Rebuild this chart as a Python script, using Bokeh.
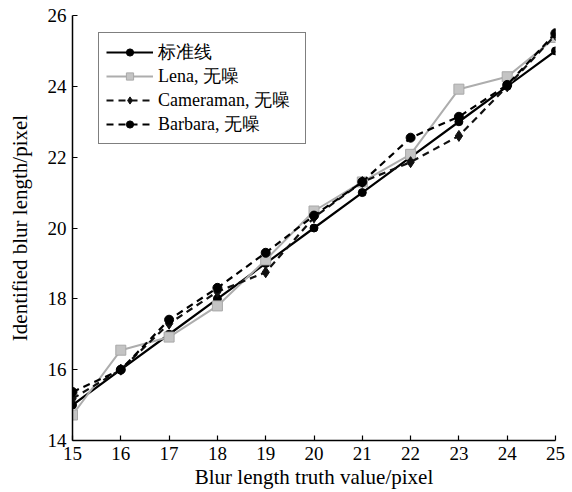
from bokeh.plotting import figure
from bokeh.models import Range1d, Legend, LegendItem, FixedTicker
from bokeh.embed import file_html
from bokeh.resources import INLINE

x = [15, 16, 17, 18, 19, 20, 21, 22, 23, 24, 25]
standard = [15, 16, 17, 18, 19, 20, 21, 22, 23, 24, 25]
lena = [14.72, 16.55, 16.92, 17.8, 19.1, 20.48, 21.3, 22.08, 23.92, 24.27, 25.38]
cameraman = [15.18, 16.0, 17.3, 18.2, 18.75, 20.3, 21.3, 21.86, 22.6, 24.0, 25.45]
barbara = [15.37, 16.0, 17.41, 18.31, 19.3, 20.35, 21.3, 22.55, 23.14, 24.04, 25.5]

labels = ["标准线", "Lena, 无噪", "Cameraman, 无噪", "Barbara, 无噪"]
x_ticks = [15, 16, 17, 18, 19, 20, 21, 22, 23, 24, 25]
y_ticks = [14, 16, 18, 20, 22, 24, 26]

FONT = "'Liberation Serif', 'Noto Sans CJK SC'"

p = figure(width=572, height=492, output_backend="svg", toolbar_location=None,
           x_range=Range1d(15, 25), y_range=Range1d(14, 26),
           min_border_left=72, min_border_right=17, min_border_top=15, min_border_bottom=52)
p.outline_line_color = None
p.xgrid.visible = False
p.ygrid.visible = False

for ax in (p.xaxis[0], p.yaxis[0]):
    ax.axis_line_color = "black"
    ax.axis_line_width = 1.5
    ax.major_tick_in = 5
    ax.major_tick_out = 0
    ax.major_tick_line_width = 1.2
    ax.minor_tick_line_color = None
    ax.major_label_text_font = FONT
    ax.major_label_text_font_size = "19px"
    ax.major_label_text_color = "black"
    ax.axis_label_text_font = FONT
    ax.axis_label_text_font_size = "21px"
    ax.axis_label_text_font_style = "normal"
    ax.axis_label_text_color = "black"

p.xaxis.ticker = FixedTicker(ticks=x_ticks)
p.yaxis.ticker = FixedTicker(ticks=y_ticks)
p.xaxis.axis_label = "Blur length truth value/pixel"
p.yaxis.axis_label = "Identified blur length/pixel"
p.xaxis.major_label_standoff = 6
p.xaxis.major_label_text_line_height = 0.9
p.xaxis.axis_label_text_line_height = 0.9
p.yaxis.major_label_standoff = 6
p.xaxis.axis_label_standoff = 2
p.yaxis.axis_label_standoff = 13

r1l = p.line(x, standard, line_color="black", line_width=2.2)
r1m = p.scatter(x, standard, marker="circle", size=8, fill_color="black", line_color="black")

r2l = p.line(x, lena, line_color="#adadad", line_width=2)
r2m = p.scatter(x, lena, marker="square", size=10, fill_color="#c4c4c4", line_color="#a8a8a8")

r3l = p.line(x, cameraman, line_color="#111111", line_width=2.2, line_dash="7 5")
r3m = p.scatter(x, cameraman, marker="diamond", size=11, fill_color="#111111", line_color="#111111")

r4l = p.line(x, barbara, line_color="black", line_width=2.2, line_dash="7 5")
r4m = p.scatter(x, barbara, marker="circle", size=9, fill_color="black", line_color="black")

legend = Legend(items=[
    LegendItem(label=labels[0], renderers=[r1l, r1m]),
    LegendItem(label=labels[1], renderers=[r2l, r2m]),
    LegendItem(label=labels[2], renderers=[r3l, r3m]),
    LegendItem(label=labels[3], renderers=[r4l, r4m]),
], location=(26, 296))
legend.border_line_color = "black"
legend.border_line_width = 1.5
legend.background_fill_alpha = 1
legend.label_text_font = "Liberation Serif"
legend.label_text_font_size = "18px"
legend.label_text_line_height = 1.0
legend.label_text_color = "black"
legend.glyph_width = 47
legend.glyph_height = 18
legend.label_height = 18
legend.label_width = 140
legend.spacing = 0
legend.padding = 7
legend.margin = 0
legend.label_standoff = 5
p.add_layout(legend, "center")

open("out.html", "w").write(file_html(p, INLINE))
